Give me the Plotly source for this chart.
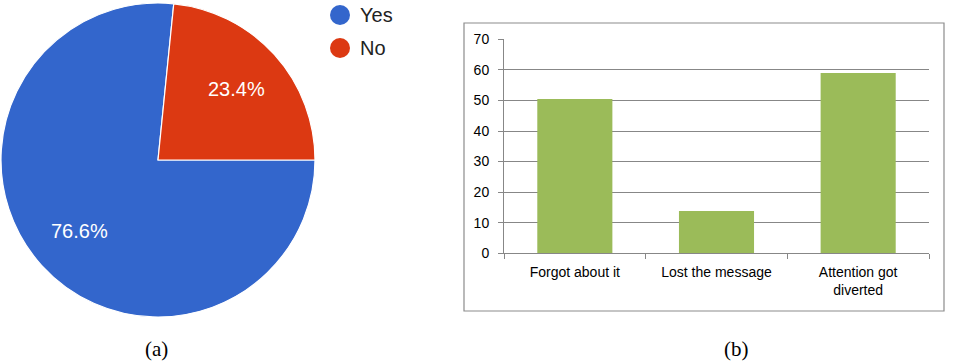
import math
import plotly.graph_objects as go

pie_labels = ["Yes", "No"]
pie_values = [76.6, 23.4]
pie_colors = ["#3366CC", "#DC3912"]

bar_categories = ["Forgot about it", "Lost the message", "Attention got<br>diverted"]
bar_values = [50.5, 13.8, 59.0]
y_ticks = [0, 10, 20, 30, 40, 50, 60, 70]

W, H = 958, 363

def px(x):
    return x / W

def py(y):
    return 1 - y / H

# pie geometry (pixels)
PIE_CX, PIE_CY, PIE_R = 158, 160, 157
PIE_START = 90  # degrees clockwise from 12 o'clock

fig = go.Figure()

fig.add_trace(go.Pie(
    labels=pie_labels, values=pie_values, sort=False, direction="clockwise",
    rotation=PIE_START, marker=dict(colors=pie_colors, line=dict(color="white", width=1.2)),
    textinfo="none",
    domain=dict(x=[px(PIE_CX - PIE_R), px(PIE_CX + PIE_R)],
                y=[py(PIE_CY + PIE_R), py(PIE_CY - PIE_R)]),
    showlegend=False, hoverinfo="label+percent",
))

# percentage labels placed along each slice's mid-angle (Google-Charts style)
total = sum(pie_values)
cum = 0.0
for v in pie_values:
    mid = PIE_START + (cum + v / 2) / total * 360
    cum += v
    a = math.radians(mid)
    lx = PIE_CX + 0.67 * PIE_R * math.sin(a)
    ly = PIE_CY - 0.67 * PIE_R * math.cos(a)
    fig.add_annotation(x=px(lx), y=py(ly), xref="paper", yref="paper",
                       text=f"{v / total * 100:.1f}%", showarrow=False,
                       xanchor="center", yanchor="middle",
                       font=dict(family="Liberation Sans, Arial", size=20, color="white"))

fig.add_trace(go.Bar(
    x=bar_categories, y=bar_values, marker=dict(color="#9BBB59", line=dict(width=0)),
    showlegend=False,
))

grid_col = "#878787"
tick_font = dict(family="Liberation Sans, Arial", size=14, color="#000")
fig.update_layout(
    template="none",
    width=W, height=H, margin=dict(l=0, r=0, t=0, b=0, pad=0), autosize=False,
    paper_bgcolor="white", plot_bgcolor="white", showlegend=False,
    bargap=0.47,
    xaxis=dict(domain=[px(504), px(929)], anchor="y", automargin=False, showline=True,
               linecolor=grid_col, linewidth=1, ticks="outside", tickson="boundaries",
               ticklen=5, tickcolor=grid_col, showgrid=False, zeroline=False,
               ticklabelstandoff=6, tickfont=tick_font),
    yaxis=dict(domain=[py(253.3), py(39.3)], anchor="x", automargin=False, range=[0, 70],
               tickvals=y_ticks, showline=True, linecolor=grid_col, linewidth=1,
               ticks="outside", ticklen=5, tickcolor=grid_col, showgrid=True,
               gridcolor=grid_col, gridwidth=1, zeroline=False,
               ticklabelstandoff=6, tickfont=tick_font),
)

# border around chart (b)
fig.add_shape(type="rect", xref="paper", yref="paper",
              x0=px(464), x1=px(944), y0=py(311), y1=py(23),
              line=dict(color="#8c8c8c", width=1.2), fillcolor="rgba(0,0,0,0)")

# custom legend for pie
for i, (lab, col) in enumerate(zip(pie_labels, pie_colors)):
    cy = 15 + 33 * i
    fig.add_shape(type="circle", xref="paper", yref="paper",
                  x0=px(330), x1=px(350), y0=py(cy + 10), y1=py(cy - 10),
                  fillcolor=col, line=dict(width=0))
    fig.add_annotation(x=px(358), y=py(cy), xref="paper", yref="paper", text=lab,
                       showarrow=False, xanchor="left", yanchor="middle",
                       font=dict(family="Liberation Sans, Arial", size=20, color="#222222"))

# captions
for txt, cx in [("(a)", 156), ("(b)", 736)]:
    fig.add_annotation(x=px(cx), y=py(349), xref="paper", yref="paper", text=txt,
                       showarrow=False, xanchor="center", yanchor="middle",
                       font=dict(family="Liberation Serif, Times New Roman", size=21, color="#000"))

fig.write_html("out.html", config={"displayModeBar": False})

with open("out.html", "r", encoding="utf-8") as f:
    html = f.read()
html = html.replace("<head>", "<head><style>html,body{margin:0;padding:0;overflow:hidden;}</style>", 1)
with open("out.html", "w", encoding="utf-8") as f:
    f.write(html)
